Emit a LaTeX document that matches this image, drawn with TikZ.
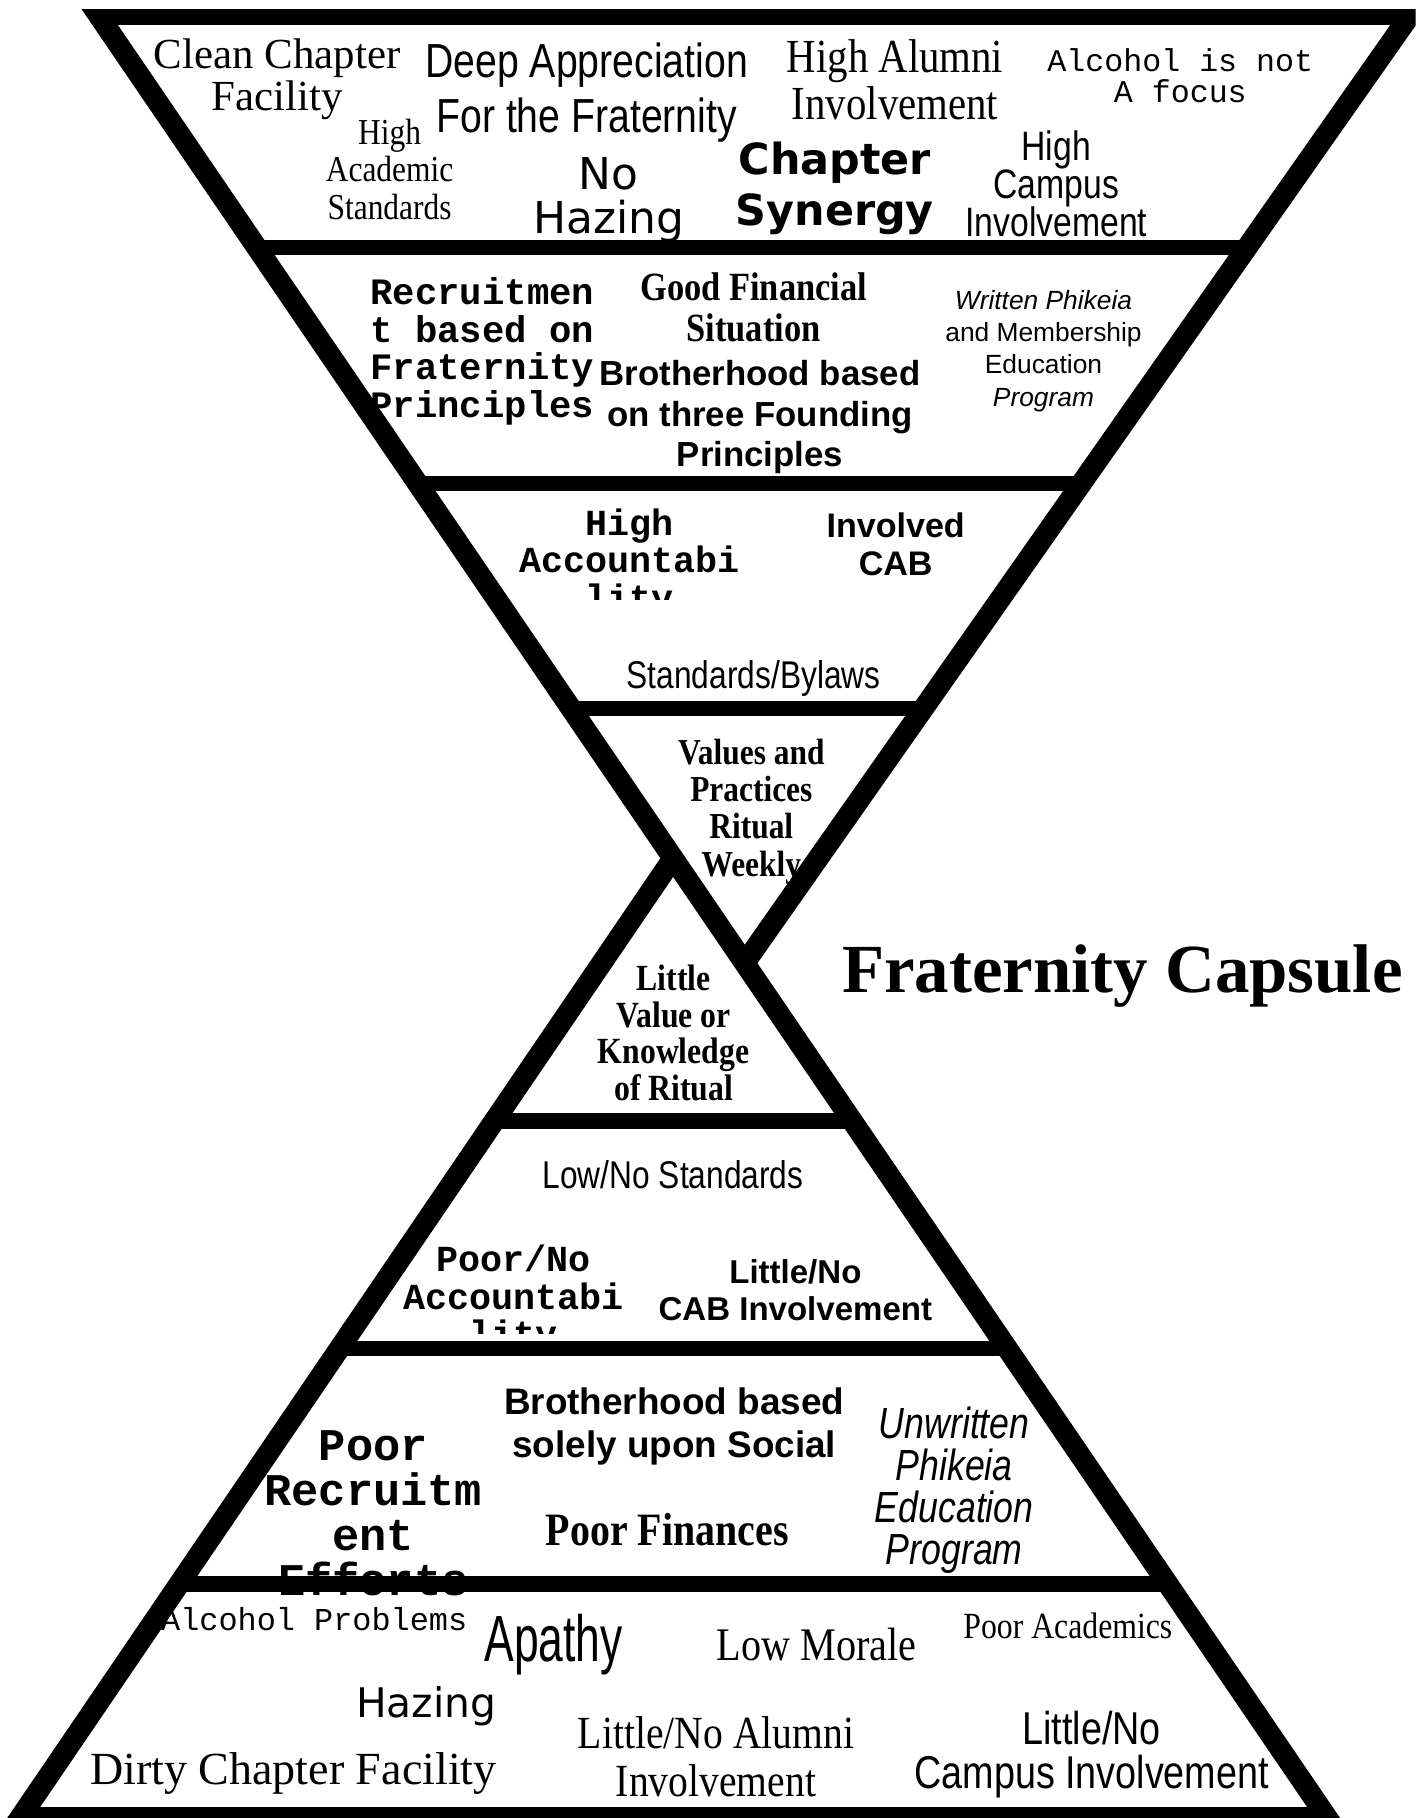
\documentclass[tikz,border=0pt]{standalone}
\usepackage{fontspec}
\setmainfont{Liberation Serif}
\setsansfont{Liberation Sans}
\setmonofont{Liberation Mono}
\newfontfamily\narrowserif[FakeStretch=0.86]{Liberation Serif}
\newfontfamily\narrowsans[FakeStretch=0.82]{Liberation Sans}
\newfontfamily\tallsans[FakeStretch=0.68]{Liberation Sans}
\newfontfamily\widesans{DejaVu Sans}
\newcommand{\fsz}[2]{\fontsize{#1}{#2}\selectfont}
\lineskiplimit=-\maxdimen

\begin{document}
\begin{tikzpicture}[x=0.011597cm, y=-0.011597cm,
    side/.style={line width=6pt},
    band/.style={line width=4.4pt},
    txt/.style={inner sep=0pt, align=center}]
    \useasboundingbox (0,0) rectangle (1221,1568);

    % top: the good chapter
    \node[txt, font=\rmfamily\fsz{12.2}{11.9}] (clean) at (239,68) {Clean Chapter\\Facility};
    \node[txt, font=\narrowsans\fsz{13.6}{15.5}] (deep) at (506,80) {Deep Appreciation\\For the Fraternity};
    \node[txt, font=\narrowserif\fsz{13.5}{13.5}] (alumni) at (772,69) {High Alumni\\Involvement};
    \node[txt, font=\ttfamily\fsz{9}{8.9}] (alcohol) at (1018,65) {Alcohol is not\\A focus};
    \node[txt, font=\narrowserif\fsz{10.4}{10.6}] (acad) at (336,146) {High\\Academic\\Standards};
    \node[txt, font=\widesans\fsz{12.5}{12.5}] (nohaze) at (525,172.5) {No\\Hazing};
    \node[txt, font=\widesans\bfseries\fsz{12.2}{14.5}] (synergy) at (720,162.5) {Chapter\\Synergy};
    \node[txt, font=\narrowsans\fsz{11.7}{10.9}] (campus) at (911,158.5) {High\\Campus\\Involvement};

    % second layer
    \node[txt, align=left, anchor=west, font=\ttfamily\bfseries\fsz{10.6}{10.7}] (recruit) at (319,303) {Recruitmen\\t based on\\Fraternity\\Principles};
    \node[txt, font=\narrowserif\bfseries\fsz{11.4}{11.5}] (finance) at (650,265) {Good Financial\\Situation};
    \node[txt, font=\sffamily\bfseries\fsz{9.9}{11.5}] (brother) at (655.5,360) {Brotherhood based\\on three Founding\\Principles};
    \node[txt, font=\sffamily\fsz{7.5}{9.2}] (written) at (900,302.5) {\textit{Written Phikeia}\\and Membership\\Education\\\textit{Program}};

    % third layer
    \begin{scope}
        \clip (400,420) rectangle (700,517);
        \node[txt, font=\ttfamily\bfseries\fsz{10.45}{10.6}] (highacc) at (543,486) {High\\Accountabi\\lity};
    \end{scope}
    \node[txt, font=\sffamily\bfseries\fsz{9.7}{10.9}] (cab) at (772.5,469.5) {Involved\\CAB};
    \node[txt, anchor=base, font=\narrowsans\fsz{11}{11}] (bylaws) at (650,594) {Standards/Bylaws};

    % the two tips
    \node[txt, font=\narrowserif\bfseries\fsz{10.4}{10.6}] (ritual) at (648,700) {Values and\\Practices\\Ritual\\Weekly};
    \node[txt, font=\narrowserif\bfseries\fsz{10.5}{10.4}] (knowledge) at (581,891) {Little\\Value or\\Knowledge\\of Ritual};
    \node[txt, anchor=base, font=\rmfamily\bfseries\fsz{19.6}{20}] (title) at (968,856) {Fraternity Capsule};

    % lower: the weak chapter
    \node[txt, anchor=base, font=\narrowsans\fsz{11}{11}] (lowstd) at (580.5,1025) {Low/No Standards};
    \begin{scope}
        \clip (300,970) rectangle (600,1150);
        \node[txt, font=\ttfamily\bfseries\fsz{10.45}{10.6}] (pooracc) at (443,1121) {Poor/No\\Accountabi\\lity};
    \end{scope}
    \node[txt, font=\sffamily\bfseries\fsz{9.4}{10.6}] (nocab) at (686,1113) {Little/No\\CAB Involvement};

    \node[txt, font=\sffamily\bfseries\fsz{10.5}{12.2}] (social) at (581.5,1230.5) {Brotherhood based\\solely upon Social};
    \begin{scope}
        \clip (200,1170) rectangle (450,1376);
        \node[txt, font=\ttfamily\bfseries\fsz{12.9}{12.8}] (poorrec) at (322,1305) {Poor\\Recruitm\\ent\\Efforts};
    \end{scope}
    \node[txt, anchor=base, font=\narrowserif\bfseries\fsz{13.2}{13.2}] (finances) at (575.5,1333) {Poor Finances};
    \node[txt, font=\narrowsans\itshape\fsz{12.4}{12}] (unwritten) at (823,1285.5) {Unwritten\\Phikeia\\Education\\Program};

    % bottom layer
    \node[txt, anchor=base, font=\ttfamily\fsz{9.07}{9}] (alcprob) at (271,1406) {Alcohol Problems};
    \node[txt, anchor=base, font=\tallsans\fsz{18.6}{18}] (apathy) at (477.5,1433) {Apathy};
    \node[txt, anchor=base, font=\narrowserif\fsz{13.3}{13}] (morale) at (704.5,1432) {Low Morale};
    \node[txt, anchor=base, font=\narrowserif\fsz{10.5}{10}] (academics) at (921,1413) {Poor Academics};
    \node[txt, anchor=base, font=\widesans\fsz{11.6}{11}] (hazing) at (367.5,1481) {Hazing};
    \node[txt, font=\narrowserif\fsz{13.1}{13.5}] (alumnino) at (617.5,1515) {Little/No Alumni\\Involvement};
    \node[txt, font=\narrowsans\fsz{13.1}{12.5}] (campusno) at (941.5,1513) {Little/No\\Campus Involvement};
    \node[txt, anchor=base, font=\rmfamily\fsz{13.1}{13}] (dirty) at (253,1539) {Dirty Chapter Facility};

    % outline corners
    \coordinate (TL) at (86,14.7);
    \coordinate (TR) at (1215,14.7);
    \coordinate (A1) at (642,831);
    \coordinate (A2) at (580,741);
    \coordinate (BL) at (24,1558);
    \coordinate (BR) at (1138,1558);

    \begin{scope}
        \clip (0,8) rectangle (1221,1568);
        % bands across the two triangles
        \draw[band] (TL) -- (TR);
        \foreach \y/\xa/\xb in {213.5/221.4/1075.4, 417/360.1/932.6, 611/492.3/796.4,
                                967/426.3/734.8, 1163/293/868.3, 1366/155/1006.6, 1565/19.7/1142.2}
            \draw[band] (\xa,\y) -- (\xb,\y);
        % sides
        \draw[side, shorten <=-20pt] (TR) -- (A1);
        \draw[side, shorten <=-20pt] (BL) -- (A2);
        \draw[side, shorten <=-20pt, shorten >=-20pt] (TL) -- (BR);
    \end{scope}
\end{tikzpicture}
\end{document}
